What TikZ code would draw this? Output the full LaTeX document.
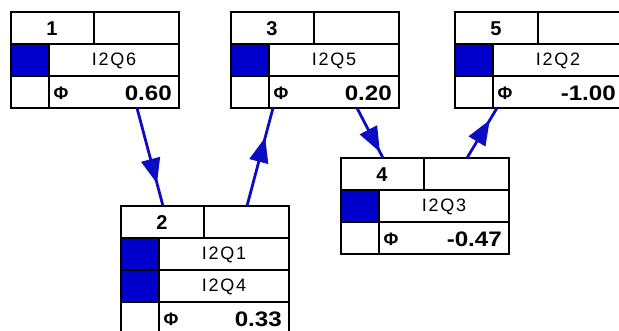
\documentclass[tikz,border=0pt]{standalone}
\usepackage{fontspec}
\setmainfont{Liberation Sans}
\newfontfamily\namefont[LetterSpace=10]{Liberation Sans}
\usetikzlibrary{arrows.meta,decorations.markings}

\definecolor{cellblue}{RGB}{0,0,204}
\definecolor{linkblue}{RGB}{12,12,196}

\tikzset{
  grid/.style={draw=black, line width=1.8pt},
  boxframe/.style={inner sep=0pt, outer sep=0pt, minimum width=168pt},
  numlabel/.style={inner sep=0pt, font=\fontsize{20}{20}\selectfont\bfseries},
  namelabel/.style={inner sep=0pt, font=\namefont\fontsize{18}{18}\selectfont},
  philabel/.style={inner sep=0pt, font=\fontsize{18}{18}\selectfont\bfseries},
  vallabel/.style={inner sep=0pt, anchor=east, font=\fontsize{21}{21}\selectfont\bfseries},
  link/.style={draw=linkblue, line width=2.8pt,
    postaction={decorate, decoration={markings,
      mark=at position #1 with {\arrow{Triangle[length=25pt,width=19pt]}}}}}
}

% #1 name, #2 x, #3 y, #4 number, #5 variables, #6 count of variables, #7 value
\newcommand\databox[7]{%
  \begin{scope}[shift={(#2,#3)}]
    \pgfmathsetmacro\rowsbottom{32*(#6+2)}
    \pgfmathsetmacro\valtop{32*(#6+1)}
    \node[boxframe, minimum height=\rowsbottom pt, anchor=north west] (#1) at (0,0) {};
    \foreach \nm [count=\i] in {#5} {
      \fill[cellblue] (0,32*\i) rectangle (38,32*\i+32);
      \node[namelabel] (#1-var\i) at (103,32*\i+17) {\nm};
      \draw[grid] (0,32*\i) -- (168,32*\i);
    }
    \draw[grid] (0,\valtop) -- (168,\valtop);
    \draw[grid] (83,0) -- (83,32);
    \draw[grid] (38,32) -- (38,\rowsbottom);
    \draw[grid] (0,0) rectangle (168,\rowsbottom);
    \node[numlabel] (#1-num) at (41,17) {#4};
    \node[philabel] (#1-phi) at (50,\valtop+17) {Φ};
    \node[vallabel] (#1-val) at (161,\valtop+17) {\scalebox{1.15}[1]{#7}};
    % outgoing links leave near the right, incoming ones arrive near the left
    \coordinate (#1-outtop) at (126,0);
    \coordinate (#1-outbot) at (126,\rowsbottom);
    \coordinate (#1-intop) at (42,0);
    \coordinate (#1-inbot) at (42,\rowsbottom);
  \end{scope}}

\begin{document}
\begin{tikzpicture}[x=1pt, y=-1pt]
  \useasboundingbox (0,0) rectangle (619,331);
  \fill[white] (0,0) rectangle (619,331);
  \clip (0,0) rectangle (619,331);

  \databox{n1}{11}{12}{1}{I2Q6}{1}{0.60}
  \databox{n3}{231}{12}{3}{I2Q5}{1}{0.20}
  \databox{n5}{455}{12}{5}{I2Q2}{1}{-1.00}
  \databox{n2}{121}{206}{2}{I2Q1,I2Q4}{2}{0.33}
  \databox{n4}{341}{158}{4}{I2Q3}{1}{-0.47}

  \draw[link=0.77] (n1-outbot) -- (n2-intop);
  \draw[link=0.70] (n2-outtop) -- (n3-inbot);
  \draw[link=0.88] (n3-outbot) -- (n4-intop);
  \draw[link=0.76] (n4-outtop) -- (n5-inbot);
\end{tikzpicture}
\end{document}
